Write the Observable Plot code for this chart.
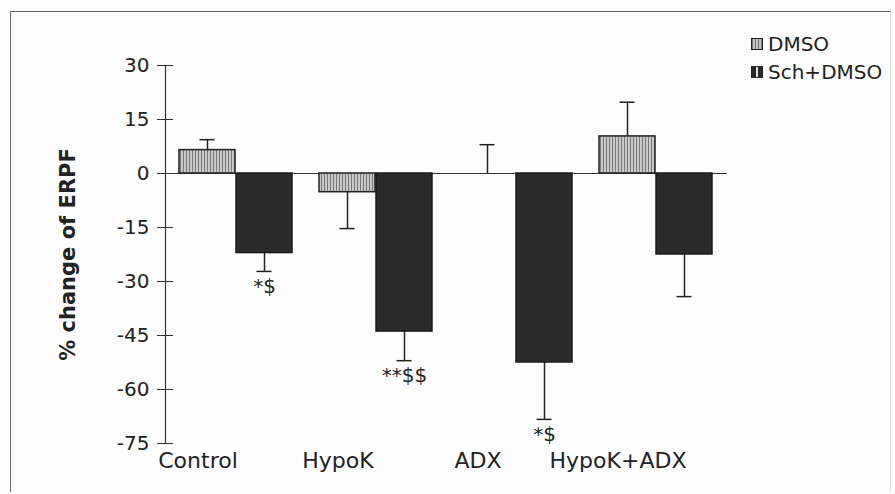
<!DOCTYPE html>
<html>
<head>
<meta charset="utf-8">
<script src="https://cdn.jsdelivr.net/npm/d3@7"></script>
<script src="https://cdn.jsdelivr.net/npm/@observablehq/plot@0.6"></script>
<style>
  html, body { margin: 0; padding: 0; background: #fdfdfd; }
  #wrap { position: relative; width: 895px; height: 494px; overflow: hidden; font-family: "DejaVu Sans", sans-serif; }
  #border { position: absolute; left: 10px; top: 11px; width: 879px; height: 480px; border-top: 1.5px solid #666; border-left: 1.5px solid #666; border-right: 1px solid #ddd; }
  #legend { position: absolute; left: 751px; top: 30px; font-size: 20px; color: #222; }
  .item { display: flex; align-items: center; height: 28px; }
  .sw { width: 10px; height: 10px; border: 1.5px solid #222; margin-right: 5px; box-sizing: content-box; }
  #chart { position: absolute; left: 0; top: 0; }
</style>
</head>
<body>
<div id="wrap">
  <div id="border"></div>
  <div id="chart"></div>
  <div id="legend">
    <div class="item"><div class="sw" style="background: repeating-linear-gradient(90deg,#777 0 1px,#c4c4c4 1px 3px);"></div>DMSO</div>
    <div class="item"><div class="sw" style="background: linear-gradient(90deg,#2a2a2a 0 4px,#ddd 4px 6px,#2a2a2a 6px 10px);"></div>Sch+DMSO</div>
  </div>
</div>
<script>
const groups = ["Control", "HypoK", "ADX", "HypoK+ADX"];
const dmso = [6.5, -5.2, 0, 10.3];
const dmsoErr = [2.9, 10.1, 8.0, 9.5];
const sch = [-22.1, -43.9, -52.5, -22.5];
const schErr = [5.1, 8.1, 15.8, 11.7];
const schNotes = ["*$", "**$$", "*$", ""];
const yTicks = [30, 15, 0, -15, -30, -45, -60, -75];

const dRows = groups.map((g, i) => ({group: g, value: dmso[i], err: dmsoErr[i]}));
const sRows = groups.map((g, i) => ({group: g, value: sch[i], err: schErr[i], note: schNotes[i]}));
const tipEnd = d => d.value >= 0 ? d.value + d.err : d.value - d.err;

const W = 895, H = 494, mL = 165, mR = 168;
const band = 114, half = band / 2;
const font = "'DejaVu Sans', sans-serif";

const chart = Plot.plot({
  width: W, height: H,
  marginLeft: mL, marginRight: mR, marginTop: 65, marginBottom: 51,
  style: {fontFamily: font, color: "#222", background: "transparent"},
  x: {domain: groups, paddingInner: 0.19, paddingOuter: 0.09, axis: null},
  y: {domain: [-75, 30], axis: null},
  marks: [
    Plot.ruleX(dRows, {x: "group", y1: "value", y2: tipEnd, dx: -half / 2, stroke: "#222", strokeWidth: 1.5}),
    Plot.ruleX(sRows, {x: "group", y1: "value", y2: tipEnd, dx: half / 2, stroke: "#222", strokeWidth: 1.5}),
    Plot.tickY(dRows, {x: "group", y: tipEnd, dx: -half / 2, insetLeft: 49, insetRight: 49, stroke: "#222", strokeWidth: 1.5}),
    Plot.tickY(sRows, {x: "group", y: tipEnd, dx: half / 2, insetLeft: 49, insetRight: 49, stroke: "#222", strokeWidth: 1.5}),
    Plot.ruleY([0], {stroke: "#333", strokeWidth: 1.2}),
    Plot.barY(dRows, {x: "group", y: "value", insetRight: half, fill: "url(#hatchD)", stroke: "#222", strokeWidth: 1.5}),
    Plot.barY(sRows, {x: "group", y: "value", insetLeft: half, fill: "#2b2b2b", stroke: "#1a1a1a", strokeWidth: 1.5}),
    Plot.text(sRows, {x: "group", y: tipEnd, text: "note", dx: half / 2, dy: 7, lineAnchor: "top", fontSize: 20, fill: "#222"}),
    Plot.frame({anchor: "left", stroke: "#333", strokeWidth: 1.2}),
    Plot.axisY({ticks: yTicks, tickFormat: d => String(d), tickSize: 16, dx: 8, tickPadding: 8, fontSize: 20, label: null, stroke: "#333"}),
    Plot.axisX({tickSize: 0, tickPadding: 9, dx: -38, fontSize: 22, label: null}),
    Plot.text(["% change of ERPF"], {frameAnchor: "left", dx: -97, rotate: -90, textAnchor: "middle", fontSize: 21, fontWeight: "bold", fill: "#222"})
  ]
});

const svg = d3.select(chart);
const defs = svg.insert("defs", ":first-child");
const p = defs.append("pattern").attr("id", "hatchD").attr("patternUnits", "userSpaceOnUse").attr("width", 3).attr("height", 6);
p.append("rect").attr("width", 3).attr("height", 6).attr("fill", "#c8c8c8");
p.append("rect").attr("width", 1).attr("height", 6).attr("fill", "#7a7a7a");

document.getElementById("chart").appendChild(chart);
</script>
</body>
</html>
